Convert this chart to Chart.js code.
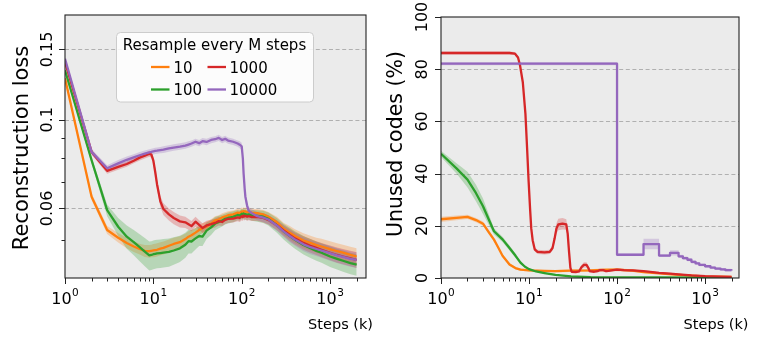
<!DOCTYPE html>
<html><head><meta charset="utf-8">
<script src="https://cdn.jsdelivr.net/npm/chart.js@4.4.0/dist/chart.umd.min.js"></script>
<style>
html,body{margin:0;padding:0;background:#fff;overflow:hidden}
#c1{position:absolute;left:0;top:0}
#c2{position:absolute;left:380px;top:0}
</style>
</head><body>
<canvas id="c1" width="380" height="344"></canvas>
<canvas id="c2" width="381" height="344"></canvas>
<script>
// ---------------- DATA ----------------
const seriesNames = ['10', '100', '1000', '10000'];
const seriesColors = ['#ff7f0e', '#2ca02c', '#d62728', '#9467bd'];
const legendTitle = 'Resample every M steps';
const xTitle = 'Steps (k)';
const lossTitle = 'Reconstruction loss';
const unusedTitle = 'Unused codes (%)';

const xMajorTicks = [1, 10, 100, 1000];
const lossTicks = [0.06, 0.1, 0.15];
const lossTickLabels = ['0.06', '0.1', '0.15'];
const lossMinorTicks = [0.05, 0.07, 0.08, 0.09];
const unusedTicks = [0, 20, 40, 60, 80, 100];
const unusedTickLabels = ['0', '20', '40', '60', '80', '100'];

// Left panel: reconstruction loss
const lossSteps = [1,2,3,4,5,6,7,8,9,9.5, 10,10.5,11,12,13,15,17,20,23,25, 27,30,33,36,40,45,50,55,60,65, 70,80,90,95,100,103,105,108,110,115, 120,130,150,175,200,250,300,350,400,500, 600,700,800,1000,1200,1400,1700,2000];
const loss10 = [0.127,0.0642,0.0530,0.0507,0.0492,0.0482,0.0475,0.0470,0.0469,0.0470, 0.0471,0.0472,0.0473,0.0476,0.0478,0.0484,0.0489,0.0494,0.0503,0.0510, 0.0514,0.0522,0.0530,0.0536,0.0541,0.0550,0.0560,0.0563,0.0570,0.0573, 0.0577,0.0580,0.0586,0.0584,0.0590,0.0588,0.0591,0.0589,0.0590,0.0587, 0.0589,0.0586,0.0584,0.0580,0.0572,0.0554,0.0533,0.0522,0.0512,0.0499, 0.0492,0.0486,0.0482,0.0475,0.0469,0.0465,0.0459,0.0455];
const loss100 = [0.133,0.0792,0.0594,0.0540,0.0510,0.0494,0.0480,0.0468,0.0458,0.0459, 0.0461,0.0462,0.0463,0.0464,0.0465,0.0467,0.0471,0.0477,0.0487,0.0497, 0.0496,0.0505,0.0512,0.0510,0.0528,0.0538,0.0550,0.0555,0.0560,0.0565, 0.0568,0.0572,0.0578,0.0576,0.0582,0.0580,0.0583,0.0579,0.0581,0.0578, 0.0580,0.0577,0.0575,0.0572,0.0565,0.0545,0.0525,0.0512,0.0501,0.0486, 0.0477,0.0470,0.0465,0.0455,0.0449,0.0444,0.0438,0.0434];
const loss1000 = [0.1395,0.0831,0.0745,0.0762,0.0775,0.0790,0.0804,0.0813,0.0822,0.0818, 0.0790,0.0740,0.0690,0.0625,0.0598,0.0580,0.0568,0.0557,0.0554,0.0548, 0.0542,0.0556,0.0546,0.0536,0.0544,0.0548,0.0552,0.0558,0.0555,0.0562, 0.0565,0.0566,0.0570,0.0568,0.0574,0.0571,0.0576,0.0573,0.0575,0.0572, 0.0574,0.0571,0.0572,0.0568,0.0562,0.0545,0.0528,0.0515,0.0505,0.0492, 0.0484,0.0478,0.0473,0.0465,0.0459,0.0455,0.0450,0.0446];
const loss10000 = [0.142,0.0831,0.0756,0.0778,0.0794,0.0805,0.0815,0.0823,0.0829,0.0831, 0.0834,0.0836,0.0837,0.0840,0.0842,0.0848,0.0852,0.0857,0.0862,0.0867, 0.0872,0.0881,0.0874,0.0884,0.0880,0.0890,0.0894,0.0901,0.0890,0.0896, 0.0887,0.0881,0.0872,0.0866,0.0858,0.0800,0.0735,0.0672,0.0642,0.0610, 0.0592,0.0584,0.0574,0.0569,0.0563,0.0544,0.0525,0.0512,0.0502,0.0488, 0.0480,0.0475,0.0471,0.0464,0.0458,0.0454,0.0449,0.0446];
const lossSpread10 = [0.0015,0.0012,0.0012,0.0014,0.0015,0.0015,0.0015,0.0016,0.0017,0.0017, 0.0018,0.0018,0.0018,0.0018,0.0018,0.0018,0.0018,0.0017,0.0016,0.0016, 0.0015,0.0015,0.0015,0.0015,0.0015,0.0014,0.0014,0.0014,0.0014,0.0014, 0.0013,0.0013,0.0013,0.0013,0.0013,0.0013,0.0013,0.0013,0.0013,0.0013, 0.0013,0.0013,0.0014,0.0015,0.0016,0.0018,0.0019,0.0020,0.0020,0.0021, 0.0021,0.0021,0.0022,0.0022,0.0022,0.0022,0.0022,0.0022];
const lossSpread100 = [0.0015,0.0015,0.0020,0.0028,0.0034,0.0036,0.0037,0.0038,0.0038,0.0038, 0.0038,0.0038,0.0038,0.0038,0.0038,0.0038,0.0037,0.0036,0.0035,0.0034, 0.0033,0.0031,0.0029,0.0027,0.0025,0.0023,0.0021,0.0020,0.0019,0.0018, 0.0018,0.0018,0.0017,0.0017,0.0017,0.0017,0.0017,0.0017,0.0017,0.0017, 0.0017,0.0018,0.0019,0.0020,0.0021,0.0023,0.0024,0.0025,0.0025,0.0026, 0.0026,0.0026,0.0026,0.0027,0.0027,0.0027,0.0027,0.0027];
const lossSpread1000 = [0.0012,0.0012,0.0012,0.0012,0.0012,0.0012,0.0013,0.0013,0.0014,0.0015, 0.0017,0.0018,0.0019,0.0020,0.0020,0.0020,0.0020,0.0019,0.0018,0.0017, 0.0016,0.0016,0.0015,0.0015,0.0015,0.0014,0.0014,0.0014,0.0013,0.0013, 0.0013,0.0013,0.0013,0.0013,0.0013,0.0013,0.0013,0.0013,0.0013,0.0013, 0.0013,0.0013,0.0014,0.0015,0.0015,0.0016,0.0017,0.0018,0.0018,0.0019, 0.0019,0.0019,0.0019,0.0020,0.0020,0.0020,0.0020,0.0020];
const lossSpread10000 = [0.0015,0.0014,0.0014,0.0015,0.0015,0.0015,0.0015,0.0015,0.0015,0.0015, 0.0015,0.0015,0.0015,0.0015,0.0016,0.0016,0.0016,0.0016,0.0016,0.0016, 0.0016,0.0016,0.0016,0.0016,0.0016,0.0016,0.0016,0.0016,0.0016,0.0016, 0.0016,0.0016,0.0016,0.0017,0.0018,0.0020,0.0020,0.0020,0.0018,0.0015, 0.0013,0.0013,0.0013,0.0014,0.0015,0.0016,0.0017,0.0018,0.0018,0.0019, 0.0019,0.0019,0.0019,0.0020,0.0020,0.0020,0.0020,0.0020];

// Right panel: unused codes (%)
const unusedSteps10 = [1,1.5,2,2.5,3,3.5,4,4.5,5,6,7,8,10,15,20,30,50,70,100,150,200,300,500,700,1000,1500,2000];
const unused10 = [22.5,23.0,23.4,22.2,20.8,17.5,14.7,11.5,8.5,5.2,3.8,3.2,2.9,2.7,2.6,2.8,2.9,3.1,3.2,2.8,2.3,1.8,1.2,0.9,0.6,0.5,0.4];
const unusedSpread10 = [1.0,0.9,0.8,0.8,0.8,0.8,0.7,0.6,0.5,0.5,0.4,0.4,0.4,0.4,0.5,0.5,0.5,0.6,0.6,0.5,0.4,0.3,0.3,0.3,0.2,0.2,0.2];
const unusedSteps100 = [1,1.5,2,2.5,3,3.5,4,5,6,7,8,9,10,12,15,20,30,50,100,300,1000,2000];
const unused100 = [47.6,42.0,37.7,32.5,27.5,22.3,17.9,14.8,11.5,8.6,5.9,4.3,3.4,2.5,1.9,1.2,0.6,0.35,0.25,0.2,0.15,0.15];
const unusedSpread100 = [1.2,2.0,3.0,3.2,3.0,2.0,1.2,1.0,1.0,0.8,0.6,0.4,0.3,0.2,0.2,0.2,0.1,0.1,0.1,0.1,0.1,0.1];
const unusedSteps1000 = [1,3,6,6.9,7.5,7.9,8.5,9.1,9.5,9.9, 10.3,10.6,11,11.6,12.5,15,17.2,18.5,19.5,20.5, 21.5,24,26.5,27.5,28.5,29.5,30.5,34,37,39.5, 42,45,47,49,55,60,63,70,75,80, 90,100,120,150,200,300,400,500,700,1000, 1500,2000];
const unused1000 = [86.2,86.2,86.2,86.0,84.5,81.5,75,63,50,37, 26,19,14.5,11.0,10.0,9.8,10.0,11.5,15,19, 20.5,20.8,20.5,17,10,4,2.4,2.3,2.5,4.2, 5.0,5.0,4.0,2.6,2.4,2.6,3.0,3.0,2.6,2.7, 3.0,3.2,3.0,2.9,2.6,2.0,1.7,1.4,1.0,0.7, 0.5,0.4];
const unusedSpread1000 = [0.6,0.6,0.6,0.6,0.6,0.6,0.6,0.6,0.6,0.6, 0.6,0.6,0.7,0.8,0.8,0.8,0.8,1.0,1.5,2.0, 2.2,2.2,2.0,1.5,1.0,0.5,0.4,0.4,0.5,0.8, 1.0,1.0,0.8,0.5,0.4,0.4,0.5,0.5,0.4,0.4, 0.4,0.4,0.4,0.4,0.4,0.3,0.3,0.3,0.2,0.2, 0.2,0.2];
const unusedSteps10000 = [1,100,200,300,400,500,560,630,700,780,860,1000,1150,1300,1500,1700,2000];
const unused10000 = [82.1,8.9,13.0,8.6,9.6,8.3,7.6,7.0,6.2,5.6,5.0,4.5,4.0,3.6,3.3,3.0,2.9];
const unusedSpread10000 = [0.6,0.5,2.0,0.6,1.0,0.6,0.6,0.6,0.6,0.5,0.5,0.5,0.5,0.5,0.5,0.5,0.5];

// ---------------- BUILD ----------------
const FONT = '"DejaVu Sans", "Liberation Sans", sans-serif';
function rgba(hex, a) {
  const n = parseInt(hex.slice(1), 16);
  return `rgba(${(n >> 16) & 255},${(n >> 8) & 255},${n & 255},${a})`;
}
function buildDatasets(stepsList, valsList, spreadList, steppedIdx) {
  const ds = [];
  for (let i = 0; i < valsList.length; i++) {
    const st = stepsList[i], v = valsList[i];
    const stepped = steppedIdx === i ? 'before' : false;
    ds.push({ data: st.map((s, k) => ({ x: s, y: v[k] })), borderColor: seriesColors[i], borderWidth: 2.3,
      pointRadius: 0, fill: false, tension: 0, stepped, order: 4 - i, borderJoinStyle: 'round' });
  }
  for (let i = 0; i < valsList.length; i++) {
    const st = stepsList[i], v = valsList[i], sp = spreadList[i];
    const stepped = steppedIdx === i ? 'before' : false;
    ds.push({ data: st.map((s, k) => ({ x: s, y: v[k] - sp[k] })), borderWidth: 0, pointRadius: 0,
      fill: false, stepped, order: 20 - i, borderColor: 'transparent' });
    ds.push({ data: st.map((s, k) => ({ x: s, y: v[k] + sp[k] })), borderWidth: 0, pointRadius: 0,
      fill: { target: ds.length - 1 }, backgroundColor: rgba(seriesColors[i], 0.27), stepped,
      order: 20 - i, borderColor: 'transparent' });
  }
  return ds;
}

const deco = {
  id: 'deco',
  beforeDatasetsDraw(chart, args, o) {
    const { ctx, chartArea: a } = chart;
    const y = chart.scales.y;
    ctx.save();
    ctx.fillStyle = '#ebebeb';
    ctx.fillRect(a.left, a.top, a.right - a.left, a.bottom - a.top);
    ctx.strokeStyle = '#b0b0b0'; ctx.lineWidth = 1; ctx.setLineDash([4, 2.6]);
    o.grid.forEach(v => {
      const py = Math.round(y.getPixelForValue(v)) + 0.5;
      ctx.beginPath(); ctx.moveTo(a.left, py); ctx.lineTo(a.right, py); ctx.stroke();
    });
    ctx.restore();
  },
  afterDraw(chart, args, o) {
    const { ctx, chartArea: a } = chart;
    const x = chart.scales.x, y = chart.scales.y;
    ctx.save();
    ctx.strokeStyle = '#222'; ctx.lineWidth = 1.1;
    ctx.strokeRect(a.left, a.top, a.right - a.left, a.bottom - a.top);
    ctx.lineWidth = 1;
    const xmax = x.max;
    for (let d = 1; d <= xmax; d *= 10) {
      for (let m = 1; m <= 9; m++) {
        const v = d * m; if (v > xmax) break;
        const px = Math.round(x.getPixelForValue(v)) + 0.5;
        const len = m === 1 ? 6 : 3.5;
        ctx.beginPath(); ctx.moveTo(px, a.bottom); ctx.lineTo(px, a.bottom + len); ctx.stroke();
      }
    }
    ctx.fillStyle = '#000';
    xMajorTicks.forEach(v => {
      const px = x.getPixelForValue(v);
      const e = String(Math.round(Math.log10(v)));
      ctx.font = '16px ' + FONT; const w1 = ctx.measureText('10').width;
      ctx.font = '10.5px ' + FONT; const w2 = ctx.measureText(e).width;
      const start = px - (w1 + w2 + 0.5) / 2;
      ctx.textAlign = 'left'; ctx.textBaseline = 'alphabetic';
      ctx.font = '16px ' + FONT; ctx.fillText('10', start, 303.5);
      ctx.font = '10.5px ' + FONT; ctx.fillText(e, start + w1 + 0.5, 295.5);
    });
    o.yTicks.forEach(v => {
      const py = Math.round(y.getPixelForValue(v)) + 0.5;
      ctx.beginPath(); ctx.moveTo(a.left - 6, py); ctx.lineTo(a.left, py); ctx.stroke();
    });
    o.yMinor.forEach(v => {
      const py = Math.round(y.getPixelForValue(v)) + 0.5;
      ctx.beginPath(); ctx.moveTo(a.left - 3.5, py); ctx.lineTo(a.left, py); ctx.stroke();
    });
    ctx.font = '16px ' + FONT; ctx.textAlign = 'center'; ctx.textBaseline = 'alphabetic';
    o.yTicks.forEach((v, i) => {
      const py = y.getPixelForValue(v);
      ctx.save(); ctx.translate(o.yLabelX, py); ctx.rotate(-Math.PI / 2);
      ctx.fillText(o.yLabels[i], 0, 0); ctx.restore();
    });
    ctx.font = o.titleSize + 'px ' + FONT;
    ctx.save(); ctx.translate(o.titleX, o.titleY); ctx.rotate(-Math.PI / 2);
    ctx.fillText(o.title, 0, 0); ctx.restore();
    ctx.font = '14.5px ' + FONT; ctx.textAlign = 'right';
    ctx.fillText(xTitle, o.xTitleRight, o.xTitleBase);
    if (o.legend) {
      const L = 116.5, T = 32.5, W = 197, H = 69.5, r = 4;
      ctx.beginPath();
      ctx.moveTo(L + r, T); ctx.lineTo(L + W - r, T); ctx.arcTo(L + W, T, L + W, T + r, r);
      ctx.lineTo(L + W, T + H - r); ctx.arcTo(L + W, T + H, L + W - r, T + H, r);
      ctx.lineTo(L + r, T + H); ctx.arcTo(L, T + H, L, T + H - r, r);
      ctx.lineTo(L, T + r); ctx.arcTo(L, T, L + r, T, r); ctx.closePath();
      ctx.fillStyle = 'rgba(255,255,255,0.85)'; ctx.fill();
      ctx.strokeStyle = '#cccccc'; ctx.lineWidth = 1; ctx.stroke();
      ctx.fillStyle = '#000'; ctx.font = '15px ' + FONT; ctx.textAlign = 'center';
      ctx.fillText(legendTitle, 214.5, 49.5);
      const cols = [[151, 169.5, 173.5], [207.5, 226, 229.5]];
      const rows = [67, 89.5];
      const layout = [[0, 0], [1, 0], [0, 1], [1, 1]];
      ctx.textAlign = 'left';
      seriesNames.forEach((nm, i) => {
        const [ri, ci] = layout[i];
        const yy = rows[ri], c = cols[ci];
        ctx.strokeStyle = seriesColors[i]; ctx.lineWidth = 2.3;
        ctx.beginPath(); ctx.moveTo(c[0], yy); ctx.lineTo(c[1], yy); ctx.stroke();
        ctx.fillStyle = '#000'; ctx.fillText(nm, c[2], yy + 5.5);
      });
    }
    ctx.restore();
  }
};

function makeChart(id, datasets, xmax, yopts, pad, yw, decoOpts) {
  return new Chart(document.getElementById(id), {
    type: 'line',
    data: { datasets },
    options: {
      responsive: false, animation: false, devicePixelRatio: 1,
      layout: { padding: pad },
      plugins: { legend: { display: false }, tooltip: { enabled: false }, deco: decoOpts },
      scales: {
        x: { type: 'logarithmic', min: 1, max: xmax, grid: { display: false }, border: { display: false },
             ticks: { display: false }, afterFit(s) { s.height = 66; } },
        y: Object.assign({ grid: { display: false }, border: { display: false }, ticks: { display: false },
             afterFit(s) { s.width = yw; } }, yopts)
      }
    },
    plugins: [deco]
  });
}

makeChart('c1',
  buildDatasets([lossSteps, lossSteps, lossSteps, lossSteps], [loss10, loss100, loss1000, loss10000],
    [lossSpread10, lossSpread100, lossSpread1000, lossSpread10000], -1),
  2550, { type: 'logarithmic', min: 0.0402, max: 0.1828 },
  { left: 0, right: 14, top: 15, bottom: 0 }, 65,
  { grid: lossTicks, yTicks: lossTicks, yLabels: lossTickLabels, yMinor: lossMinorTicks, yLabelX: 51.5,
    title: lossTitle, titleSize: 21, titleX: 27.5, titleY: 148, xTitleRight: 373, xTitleBase: 329, legend: true });

makeChart('c2',
  buildDatasets([unusedSteps10, unusedSteps100, unusedSteps1000, unusedSteps10000], [unused10, unused100, unused1000, unused10000],
    [unusedSpread10, unusedSpread100, unusedSpread1000, unusedSpread10000], 3),
  2430, { type: 'linear', min: 0, max: 100 },
  { left: 0, right: 22, top: 17, bottom: 0 }, 61,
  { grid: [20, 40, 60, 80], yTicks: unusedTicks, yLabels: unusedTickLabels, yMinor: [], yLabelX: 46.5,
    title: unusedTitle, titleSize: 20.5, titleX: 22, titleY: 144, xTitleRight: 368.5, xTitleBase: 328.5, legend: false });
</script>
</body></html>
